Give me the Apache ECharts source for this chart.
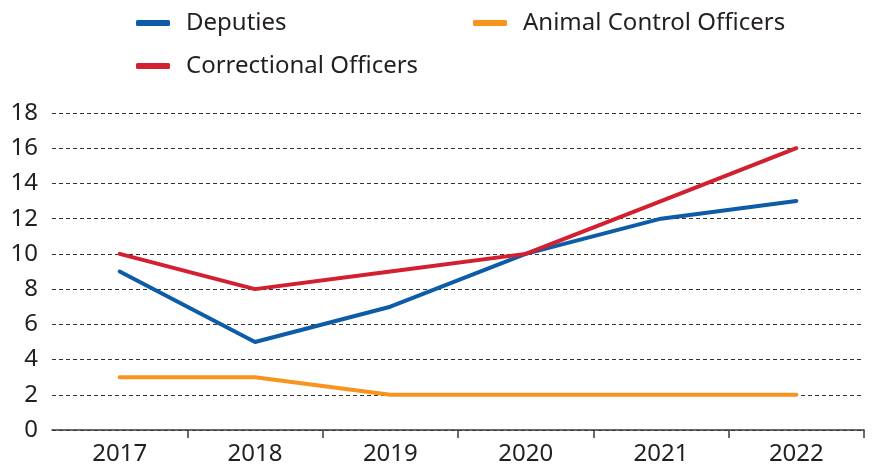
<!DOCTYPE html>
<html><head><meta charset="utf-8">
<script src="https://cdn.jsdelivr.net/npm/echarts@6/dist/echarts.min.js"></script>
<style>html,body{margin:0;padding:0;background:#fff}#c{width:874px;height:468px}</style>
</head><body><div id="c"></div>
<script>
const categories = ['2017','2018','2019','2020','2021','2022'];
const deputies = [9,5,7,10,12,13];
const correctional = [10,8,9,10,13,16];
const animalControl = [3,3,2,2,2,2];
const yTicks = [0,2,4,6,8,10,12,14,16,18];

const FONT = '"Noto Sans", sans-serif';
const chart = echarts.init(document.getElementById('c'));
const legendBase = {
  icon: 'roundRect', itemWidth: 34, itemHeight: 6, itemGap: 10,
  textStyle: {fontFamily: FONT, fontSize: 24, color: '#231f20', padding: [0,0,0,11]}
};
function mkSeries(name, data, color) {
  return {name, type: 'line', data, symbol: 'none', lineStyle: {width: 4, color, cap: 'round'}, itemStyle: {color}, z: 3};
}
chart.setOption({
  animation: false,
  legend: [
    Object.assign({data: ['Deputies'], left: 131, top: 6}, legendBase),
    Object.assign({data: ['Animal Control Officers'], left: 468, top: 6}, legendBase),
    Object.assign({data: ['Correctional Officers'], left: 131, top: 49}, legendBase)
  ],
  grid: {left: 52, right: 10, top: 113, bottom: 38, containLabel: false},
  xAxis: {
    type: 'category', data: categories, boundaryGap: true,
    axisLine: {lineStyle: {color: '#3a3a3a', width: 1.5}},
    axisTick: {show: true, length: 8, lineStyle: {color: '#3a3a3a', width: 1.5}, interval: function (i) { return i !== 0; }},
    axisLabel: {fontFamily: FONT, fontSize: 24, color: '#231f20', margin: 12}
  },
  yAxis: {
    type: 'value', min: yTicks[0], max: yTicks[yTicks.length-1], interval: 2,
    axisLine: {show: false}, axisTick: {show: false},
    axisLabel: {fontFamily: FONT, fontSize: 24, color: '#231f20', margin: 14},
    splitLine: {lineStyle: {color: '#333', width: 1, type: [4,3]}}
  },
  series: [
    mkSeries('Deputies', deputies, '#0d5ca8'),
    mkSeries('Correctional Officers', correctional, '#d31f30'),
    mkSeries('Animal Control Officers', animalControl, '#f7941d')
  ]
});
</script></body></html>
